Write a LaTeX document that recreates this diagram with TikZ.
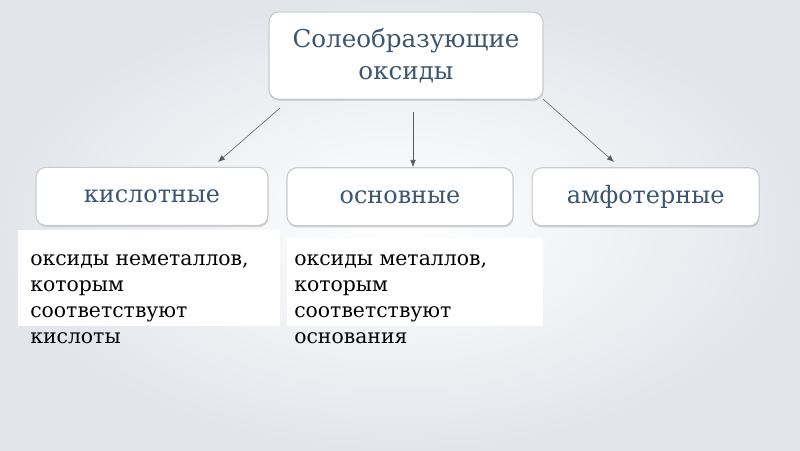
\documentclass[tikz,border=0pt]{standalone}
\usepackage{fontspec}
\setmainfont{DejaVu Serif}
\usepackage{tikz}
\usetikzlibrary{arrows.meta,positioning,shadows}
\definecolor{ink}{RGB}{60,86,112}
\definecolor{frame}{RGB}{200,203,208}
\definecolor{wash}{RGB}{226,230,235}

\begin{document}
\begin{tikzpicture}[
    headbox/.style={draw=frame, line width=0.8pt, fill=white, rounded corners=7pt,
      drop shadow={shadow xshift=0.3pt, shadow yshift=-1.2pt, fill=gray!55, opacity=0.6},
      text=ink, align=center},
    kindbox/.style={headbox, minimum height=1.45cm, font=\fontsize{17}{20}\selectfont},
    note/.style={anchor=north west, align=left, inner sep=0pt,
      font=\fontsize{14.5}{18.5}\selectfont},
    arr/.style={-{Latex[length=5pt,width=4pt]}, draw=gray!70!black, line width=0.4pt}]
  \useasboundingbox (0,0) rectangle (20,11.25);
  \shade[inner color=white, outer color=wash] (0,0) rectangle (20,11.25);

  \node[headbox, minimum width=6.85cm, minimum height=2.175cm,
    font=\fontsize{17.5}{23}\selectfont] (top) at (10.15,9.86) {Солеобразующие\\оксиды};

  \node[kindbox, minimum width=5.8cm] (acid) at (3.8,6.34) {кислотные};
  \node[kindbox, minimum width=5.65cm] (base) at (10.0,6.33) {основные};
  \node[kindbox, minimum width=5.675cm] (amph) at (16.14,6.33) {амфотерные};

  % white plates behind the notes
  \fill[white] (0.45,3.1) rectangle (7.0,5.5);
  \fill[white] (7.175,3.1) rectangle (13.575,5.3);

  \node[note] (acidtxt) at (0.75,4.88) {оксиды неметаллов,\\которым\\соответствуют\\кислоты};
  \node[note] (basetxt) at (7.35,4.88) {оксиды металлов,\\которым\\соответствуют\\основания};

  \coordinate (a1) at (7.0,8.55);
  \coordinate (a2) at (5.45,7.2);
  \coordinate (b1) at (10.325,8.45);
  \coordinate (b2) at (10.325,7.075);
  \coordinate (c1) at (13.575,8.775);
  \coordinate (c2) at (15.35,7.2);
  \draw[arr] (a1) -- (a2);
  \draw[arr] (b1) -- (b2);
  \draw[arr] (c1) -- (c2);
\end{tikzpicture}
\end{document}
